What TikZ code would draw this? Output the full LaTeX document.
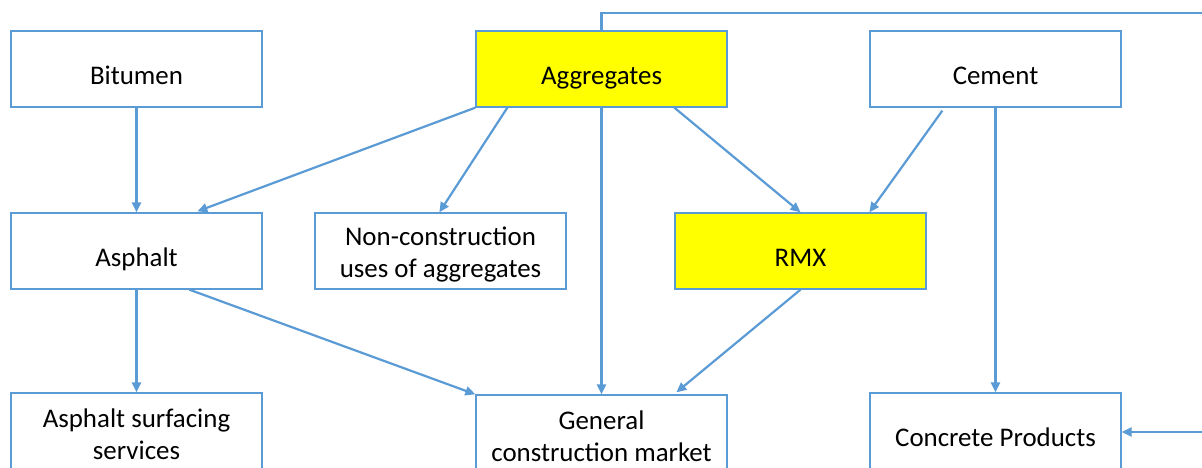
\documentclass[tikz,border=0pt]{standalone}
\usepackage{fontspec}
\setmainfont{Carlito}
\usetikzlibrary{arrows.meta,calc}
\definecolor{lineblue}{HTML}{5B9BD5}
\definecolor{boxyellow}{HTML}{FFFF00}
\tikzset{
  box/.style={draw=lineblue, line width=1.3pt, fill=white, minimum width=251pt, minimum height=76pt, inner sep=0pt},
  hibox/.style={box, fill=boxyellow},
  lowbox/.style={box, minimum height=80pt},
  lbl/.style={font=\fontsize{26.9}{32}\selectfont, inner sep=0pt, anchor=base},
  lbltwo/.style={font=\fontsize{26.9}{32}\selectfont, inner sep=0pt, align=center, anchor=center},
  conn/.style={draw=lineblue, line width=2.2pt},
  arr/.style={conn, -{Triangle[length=10pt,width=9pt]}}
}
\begin{document}
\begin{tikzpicture}[x=1pt,y=-1pt]
\useasboundingbox (0,0) rectangle (1202,468);
\clip (0,0) rectangle (1202,468);
\fill[white] (0,0) rectangle (1202,468);
% boxes (top edge + half height)
\node[box]   (bit)  at (136.5,69) {};
\node[hibox] (agg)  at (601.5,69) {};
\node[box]   (cem)  at (995.5,69) {};
\node[box]   (asp)  at (136.5,251) {};
\node[box]   (non)  at (440.5,251) {};
\node[hibox] (rmx)  at (800.5,251) {};
\node[lowbox] (surf) at (136.5,433) {};
\node[lowbox] (gen)  at (601.5,435) {};
\node[lowbox] (conc) at (995.5,433) {};
% labels
\node[lbl] (tbit) at ($(bit.north)+(0,54)$) {Bitumen};
\node[lbl] (tagg) at ($(agg.north)+(0,54)$) {Aggregates};
\node[lbl] (tcem) at ($(cem.north)+(0,54)$) {Cement};
\node[lbl] (tasp) at ($(asp.north)+(0,54)$) {Asphalt};
\node[lbltwo] (tnon) at ($(non.north)+(0,42)$) {Non-construction\\uses of aggregates};
\node[lbl] (trmx) at ($(rmx.north)+(0,54)$) {RMX};
\node[lbltwo] (tsurf) at ($(surf.north)+(0,42)$) {Asphalt surfacing\\services};
\node[lbltwo] (tgen) at ($(gen.north)+(0,42)$) {General\\construction market};
\node[lbl] (tconc) at ($(conc.north)+(0,54)$) {Concrete Products};
% outer loop
\coordinate (topright) at (1215,13);
\coordinate (rightin) at (1215,432);
\draw[conn] (agg.north) |- (topright);
\draw[arr] (rightin) -- (rightin -| conc.east);
% arrows
\draw[arr] (bit.south) -- (asp.north);
\draw[arr] (agg.south west) -- ($(asp.north west)+(187,-1)$);
\draw[arr] ($(agg.south west)+(32,0)$) -- ($(non.north west)+(125,0)$);
\draw[arr] (agg.south) -- (gen.north);
\draw[arr] ($(agg.south west)+(199,0)$) -- (rmx.north);
\draw[arr] ($(cem.south west)+(73,3)$) -- ($(rmx.north west)+(195,0)$);
\draw[arr] (cem.south) -- (conc.north);
\draw[arr] (asp.south) -- (surf.north);
\draw[arr] ($(asp.south west)+(179,0)$) -- (gen.north west);
\draw[arr] (rmx.south) -- ($(gen.north west)+(201,-2)$);
\end{tikzpicture}
\end{document}
